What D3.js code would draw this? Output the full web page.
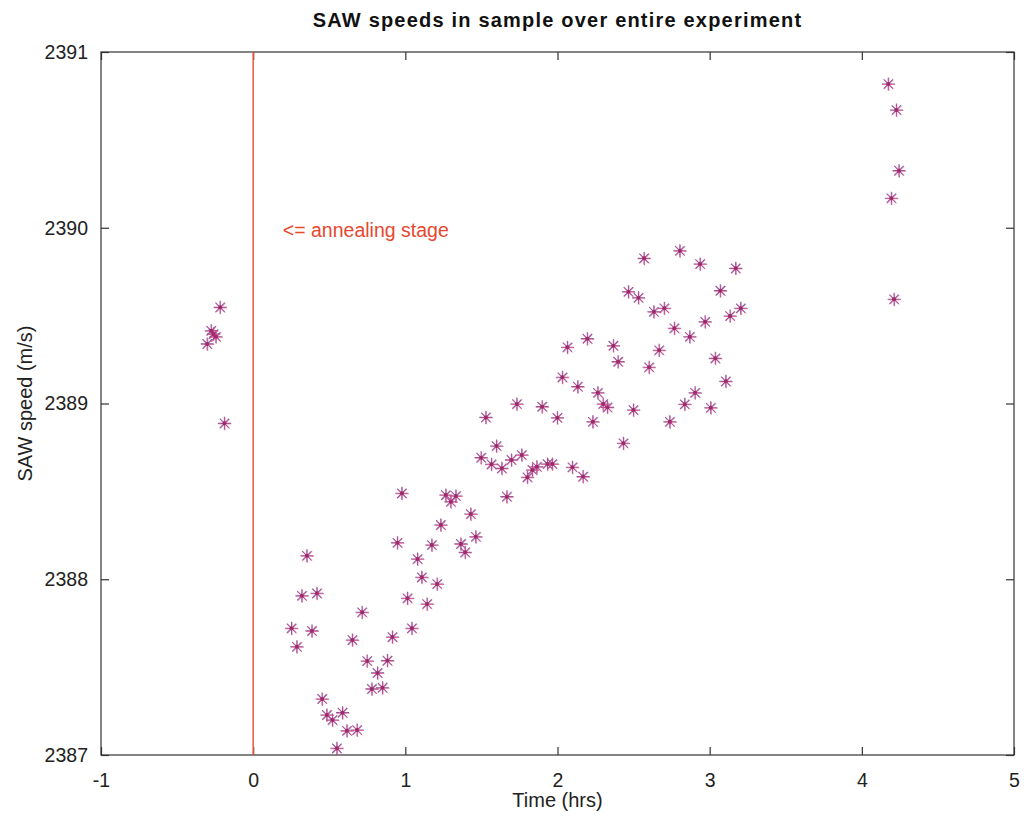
<!DOCTYPE html>
<html>
<head>
<meta charset="utf-8">
<script src="https://cdn.jsdelivr.net/npm/d3@7"></script>
<style>
  html, body { margin: 0; padding: 0; background: #fff; }
  svg { display: block; font-family: "Liberation Sans", Arial, Helvetica, sans-serif; }
</style>
</head>
<body>
<script>
// ---- data ----
const timeHrs = [
  -0.217, -0.276, -0.261, -0.245, -0.302, -0.189,
  1.233, 0.948, 1.174, 1.365, 1.393, 1.080, 1.108, 1.209, 0.353, 0.320, 0.419, 1.014, 1.143, 0.716,
  0.252, 0.386, 0.287, 0.652, 0.915, 1.043, 0.749, 0.882, 0.817, 0.780, 0.850, 0.453, 0.484, 0.521,
  0.587, 0.616, 0.683, 0.550,
  2.133, 2.265, 2.300, 2.328, 1.733, 1.899, 1.999, 2.232, 1.529, 1.599, 1.498, 1.566, 1.634, 1.697,
  1.765, 1.802, 1.835, 1.864, 1.934, 1.966, 2.098, 2.168, 0.977, 1.266, 1.299, 1.332, 1.667, 1.430, 1.463,
  2.569, 2.804, 2.937, 3.171, 2.466, 2.532, 2.633, 2.702, 3.070, 3.204, 3.134, 2.970, 2.768, 2.869,
  2.065, 2.196, 2.367, 2.398, 2.668, 2.602, 3.037, 3.106, 2.032, 2.499, 2.738, 2.904, 2.836, 3.007, 2.433,
  4.174, 4.227, 4.244, 4.194, 4.212
];
const sawSpeed = [
  2389.547, 2389.414, 2389.395, 2389.380, 2389.339, 2388.887,
  2388.309, 2388.208, 2388.195, 2388.201, 2388.153, 2388.115, 2388.011, 2387.973, 2388.134, 2387.906, 2387.920, 2387.892, 2387.859, 2387.812,
  2387.721, 2387.706, 2387.616, 2387.654, 2387.671, 2387.721, 2387.535, 2387.537, 2387.467, 2387.376, 2387.383, 2387.319, 2387.228, 2387.199,
  2387.241, 2387.138, 2387.142, 2387.038,
  2389.096, 2389.061, 2388.997, 2388.978, 2388.997, 2388.982, 2388.919, 2388.896, 2388.921, 2388.758, 2388.692, 2388.654, 2388.631, 2388.679,
  2388.707, 2388.580, 2388.622, 2388.640, 2388.656, 2388.656, 2388.637, 2388.584, 2388.489, 2388.479, 2388.441, 2388.474, 2388.470, 2388.371, 2388.242,
  2389.826, 2389.869, 2389.794, 2389.769, 2389.636, 2389.602, 2389.522, 2389.542, 2389.642, 2389.542, 2389.498, 2389.465, 2389.428, 2389.380,
  2389.320, 2389.369, 2389.329, 2389.238, 2389.303, 2389.206, 2389.257, 2389.126, 2389.149, 2388.963, 2388.896, 2389.061, 2388.996, 2388.976, 2388.774,
  2390.818, 2390.670, 2390.325, 2390.168, 2389.593
];
const xTicks = [-1, 0, 1, 2, 3, 4, 5];
const yTicks = [2387, 2388, 2389, 2390, 2391];
const xDomain = [-1, 5];
const yDomain = [2387, 2391];
const annealTime = 0;
const annotationText = "<= annealing stage";
const annotationPos = [0.195, 2389.947];
const titleText = "SAW speeds in sample over entire experiment";
const xLabelText = "Time (hrs)";
const yLabelText = "SAW speed (m/s)";

// ---- layout ----
const W = 1024, H = 817;
const mLeft = 101, mRight = 1014, mTop = 52, mBottom = 755;

const svg = d3.select("body").append("svg").attr("width", W).attr("height", H);

const x = d3.scaleLinear().domain(xDomain).range([mLeft, mRight]);
const y = d3.scaleLinear().domain(yDomain).range([mBottom, mTop]);

const axisColor = "#333";
const tickLen = 8;
const fontPx = "19.5px";

// box
svg.append("rect")
  .attr("x", mLeft).attr("y", mTop)
  .attr("width", mRight - mLeft).attr("height", mBottom - mTop)
  .attr("fill", "none").attr("stroke", axisColor).attr("stroke-width", 1.2);

// axes with inward ticks
const fmt = d => String(d);
const gx = svg.append("g").attr("transform", `translate(0,${mBottom})`)
  .call(d3.axisBottom(x).tickValues(xTicks).tickFormat(fmt).tickSizeInner(-tickLen).tickSizeOuter(0).tickPadding(18));
const gxTop = svg.append("g").attr("transform", `translate(0,${mTop})`)
  .call(d3.axisTop(x).tickValues(xTicks).tickFormat("").tickSizeInner(-tickLen).tickSizeOuter(0));
const gy = svg.append("g").attr("transform", `translate(${mLeft},0)`)
  .call(d3.axisLeft(y).tickValues(yTicks).tickFormat(fmt).tickSizeInner(-tickLen).tickSizeOuter(0).tickPadding(13));
const gyR = svg.append("g").attr("transform", `translate(${mRight},0)`)
  .call(d3.axisRight(y).tickValues(yTicks).tickFormat("").tickSizeInner(-tickLen).tickSizeOuter(0));

[gx, gxTop, gy, gyR].forEach(g => {
  g.select(".domain").remove();
  g.selectAll(".tick line").attr("stroke", axisColor).attr("stroke-width", 1.2);
  g.selectAll(".tick text").attr("fill", "#222").style("font-size", fontPx)
    .style("font-family", '"Liberation Sans", Arial, sans-serif');
});

// red vertical line
svg.append("line")
  .attr("x1", x(annealTime)).attr("x2", x(annealTime))
  .attr("y1", y(yDomain[1])).attr("y2", y(yDomain[0]))
  .attr("stroke", "#f0553c").attr("stroke-width", 1.5);

// annotation
svg.append("text")
  .attr("x", x(annotationPos[0])).attr("y", y(annotationPos[1]))
  .attr("fill", "#e8472e")
  .style("font-size", fontPx)
  .text(annotationText);

// points (asterisk markers)
const pts = timeHrs.map((t, i) => ({ t, v: sawSpeed[i] }));
const r = 6.5, rd = r * 0.72;
const asterisk = `M${-r},0L${r},0M0,${-r}L0,${r}M${-rd},${-rd}L${rd},${rd}M${-rd},${rd}L${rd},${-rd}`;
const g = svg.append("g");
g.selectAll("path.a").data(pts).enter().append("path")
  .attr("class", "a")
  .attr("d", asterisk)
  .attr("transform", d => `translate(${x(d.t)},${y(d.v)})`)
  .attr("fill", "none").attr("stroke", "#6a3f90").attr("stroke-width", 1.1).attr("stroke-opacity", 0.85);
g.selectAll("path.b").data(pts).enter().append("path")
  .attr("class", "b")
  .attr("d", asterisk)
  .attr("transform", d => `translate(${x(d.t) + 0.5},${y(d.v) + 0.5})`)
  .attr("fill", "none").attr("stroke", "#e8508a").attr("stroke-width", 1).attr("stroke-opacity", 0.7);
g.selectAll("circle").data(pts).enter().append("circle")
  .attr("cx", d => x(d.t)).attr("cy", d => y(d.v)).attr("r", 2)
  .attr("fill", "#a02a68");

// title
svg.append("text")
  .attr("x", (mLeft + mRight) / 2).attr("y", 27)
  .attr("text-anchor", "middle")
  .style("font-size", "20px").style("font-weight", "bold").style("letter-spacing", "1.2px")
  .attr("fill", "#111")
  .text(titleText);

// x label
svg.append("text")
  .attr("x", (mLeft + mRight) / 2).attr("y", 807)
  .attr("text-anchor", "middle")
  .style("font-size", "20px").attr("fill", "#222")
  .text(xLabelText);

// y label
svg.append("text")
  .attr("transform", `translate(32,${(mTop + mBottom) / 2}) rotate(-90)`)
  .attr("text-anchor", "middle")
  .style("font-size", "20px").attr("fill", "#222")
  .text(yLabelText);
</script>
</body>
</html>
